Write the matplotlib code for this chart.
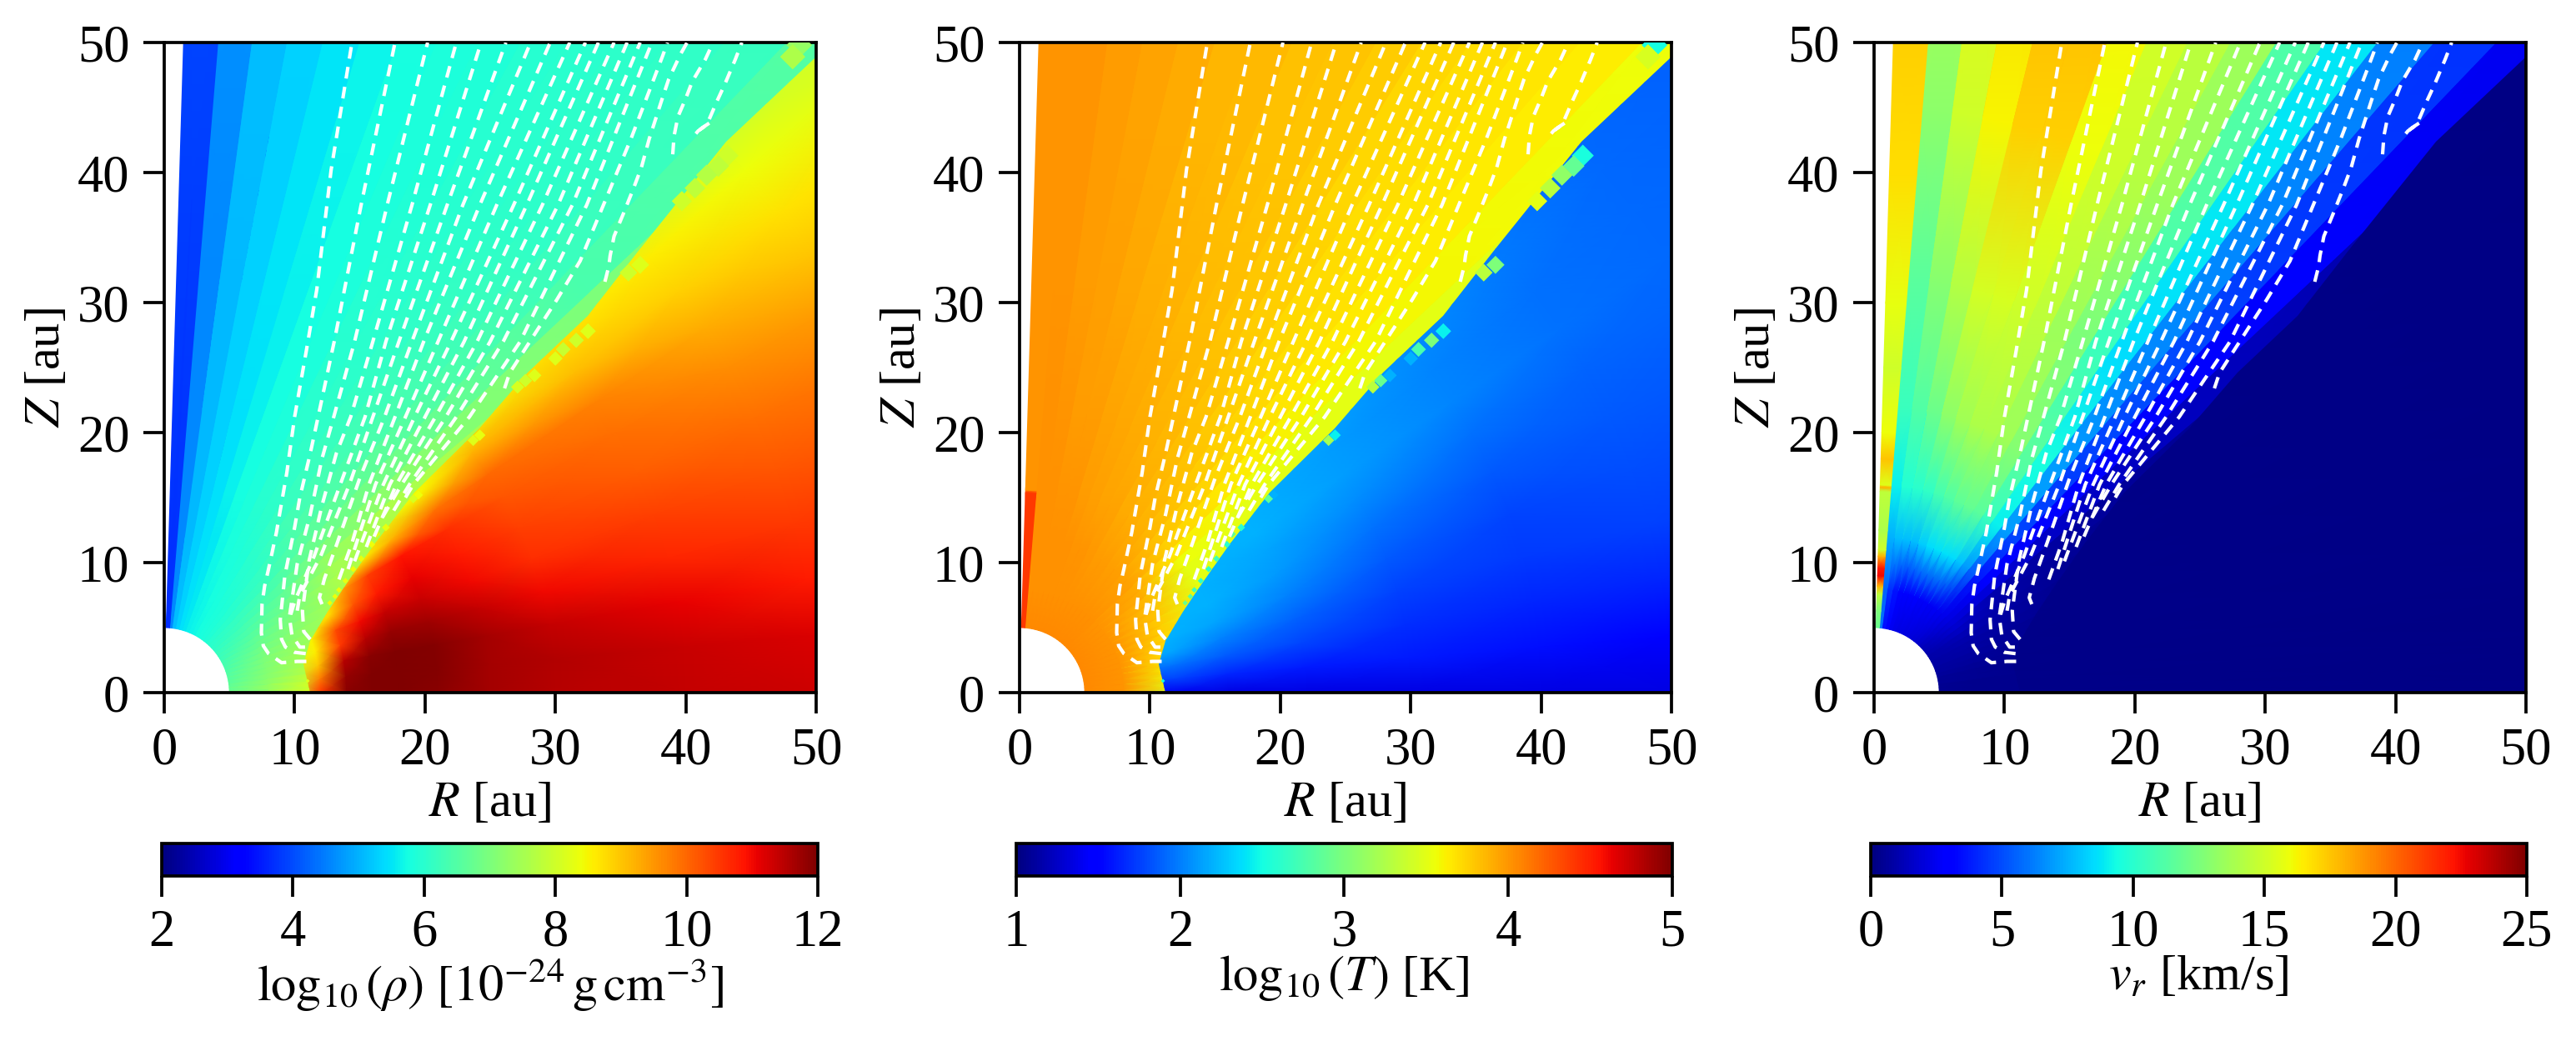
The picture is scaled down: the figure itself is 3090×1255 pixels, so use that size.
import numpy as np
import matplotlib
matplotlib.use("Agg")
import matplotlib.pyplot as plt
from matplotlib.patches import Polygon
from matplotlib.cm import ScalarMappable
from matplotlib.colors import Normalize

plt.rcParams['font.family'] = ['Liberation Serif', 'DejaVu Serif']
plt.rcParams['mathtext.fontset'] = 'stix'
plt.rcParams['font.size'] = 15

# wind grid: angle from the Z axis (deg), radius (au)
wedge_edges = [4.7, 7.7, 10.7, 13.7, 16.7, 19.7, 22.7, 25.7, 28.7, 31.7, 34.7, 37.7, 40.7, 43.7, 46.7,
               49.7, 52.7, 55.7, 58.7, 61.7, 64.7, 67.7, 70.7, 73.7, 76.7, 79.7, 82.7, 85.7, 88.7, 90.0]
wind_r = [5, 8, 12, 16, 22, 32, 45, 71]

rho_wind = [
    [4.6, 4.6, 4.6, 4.6, 4.6, 4.6, 4.65, 4.7],
    [5.1, 5.1, 5.05, 5.05, 5.05, 5.05, 5.1, 5.1],
    [5.3, 5.3, 5.3, 5.3, 5.3, 5.3, 5.3, 5.35],
    [5.45, 5.45, 5.45, 5.45, 5.45, 5.5, 5.5, 5.5],
    [5.55, 5.55, 5.55, 5.6, 5.6, 5.6, 5.65, 5.65],
    [5.6, 5.65, 5.7, 5.75, 5.75, 5.75, 5.75, 5.8],
    [5.65, 5.7, 5.8, 5.85, 5.85, 5.85, 5.85, 5.85],
    [5.7, 5.75, 5.85, 5.95, 6.0, 5.95, 5.9, 5.9],
    [5.75, 5.8, 5.9, 6.05, 6.1, 6.0, 5.95, 5.95],
    [5.8, 5.85, 6.0, 6.15, 6.2, 6.1, 6.0, 6.0],
    [5.85, 5.9, 6.05, 6.3, 6.3, 6.2, 6.05, 6.05],
    [5.9, 5.95, 6.15, 6.45, 6.45, 6.3, 6.1, 6.1],
    [5.95, 6.05, 6.25, 6.6, 6.65, 6.45, 6.2, 6.15],
    [6.0, 6.15, 6.4, 6.8, 6.9, 6.7, 6.4, 6.5],
    [6.05, 6.25, 6.55, 7.0, 7.2, 7.1, 7.0, 7.0],
    [6.1, 6.35, 6.7, 7.3, 7.6, 7.5, 7.5, 7.5],
    [6.15, 6.45, 6.85, 7.5, 7.6, 7.5, 7.5, 7.5],
    [6.2, 6.55, 7.0, 7.6, 7.6, 7.5, 7.5, 7.5],
    [6.25, 6.65, 7.1, 7.6, 7.6, 7.5, 7.5, 7.5],
    [6.3, 6.75, 7.2, 7.6, 7.6, 7.5, 7.5, 7.5],
    [6.35, 6.85, 7.3, 7.6, 7.6, 7.5, 7.5, 7.5],
    [6.4, 6.95, 7.4, 7.6, 7.6, 7.5, 7.5, 7.5],
    [6.45, 7.0, 7.5, 7.6, 7.6, 7.5, 7.5, 7.5],
    [6.5, 7.05, 7.6, 7.6, 7.6, 7.5, 7.5, 7.5],
    [6.55, 7.1, 7.7, 7.6, 7.6, 7.5, 7.5, 7.5],
    [6.6, 7.15, 7.8, 7.6, 7.6, 7.5, 7.5, 7.5],
    [6.65, 7.2, 8.0, 7.6, 7.6, 7.5, 7.5, 7.5],
    [6.7, 7.3, 8.2, 7.6, 7.6, 7.5, 7.5, 7.5],
    [6.7, 7.35, 8.3, 7.6, 7.6, 7.5, 7.5, 7.5],
]

T_wind = [
    [4.05, 4.03, 4.03, 4.03, 4.02, 4.0, 4.0, 4.0],
    [4.05, 4.03, 4.03, 4.02, 4.0, 3.98, 3.98, 3.98],
    [4.05, 4.03, 4.02, 4.0, 3.98, 3.96, 3.95, 3.95],
    [4.05, 4.03, 4.02, 4.0, 3.97, 3.93, 3.92, 3.9],
    [4.05, 4.03, 4.02, 3.98, 3.95, 3.9, 3.87, 3.87],
    [4.05, 4.03, 4.0, 3.96, 3.93, 3.88, 3.85, 3.85],
    [4.05, 4.03, 4.0, 3.95, 3.91, 3.85, 3.82, 3.82],
    [4.05, 4.03, 3.99, 3.94, 3.89, 3.83, 3.8, 3.8],
    [4.05, 4.03, 3.98, 3.92, 3.87, 3.8, 3.77, 3.77],
    [4.05, 4.02, 3.97, 3.9, 3.84, 3.77, 3.73, 3.72],
    [4.05, 4.02, 3.96, 3.88, 3.81, 3.73, 3.69, 3.69],
    [4.05, 4.02, 3.96, 3.85, 3.77, 3.7, 3.66, 3.66],
    [4.05, 4.02, 3.95, 3.8, 3.72, 3.65, 3.63, 3.63],
    [4.05, 4.02, 3.95, 3.75, 3.65, 3.58, 3.58, 3.55],
    [4.05, 4.01, 3.92, 3.65, 3.55, 3.5, 3.5, 3.5],
    [4.05, 4.0, 3.9, 3.55, 3.5, 3.5, 3.5, 3.5],
    [4.05, 4.0, 3.85, 3.5, 3.5, 3.5, 3.5, 3.5],
    [4.05, 4.0, 3.82, 3.5, 3.5, 3.5, 3.5, 3.5],
    [4.05, 4.0, 3.8, 3.5, 3.5, 3.5, 3.5, 3.5],
    [4.05, 4.0, 3.78, 3.5, 3.5, 3.5, 3.5, 3.5],
    [4.05, 4.0, 3.75, 3.5, 3.5, 3.5, 3.5, 3.5],
    [4.05, 4.0, 3.72, 3.5, 3.5, 3.5, 3.5, 3.5],
    [4.05, 4.0, 3.7, 3.5, 3.5, 3.5, 3.5, 3.5],
    [4.05, 4.0, 3.66, 3.5, 3.5, 3.5, 3.5, 3.5],
    [4.05, 4.0, 3.62, 3.5, 3.5, 3.5, 3.5, 3.5],
    [4.05, 4.0, 3.58, 3.5, 3.5, 3.5, 3.5, 3.5],
    [4.05, 4.0, 3.55, 3.5, 3.5, 3.5, 3.5, 3.5],
    [4.05, 4.0, 3.5, 3.5, 3.5, 3.5, 3.5, 3.5],
    [4.05, 4.0, 3.45, 3.5, 3.5, 3.5, 3.5, 3.5],
]

v_wind = [
    [6.0, 5.5, 7.5, 9.0, 10.5, 11.5, 13.0, 14.5],
    [3.5, 4.2, 7.8, 9.8, 11.2, 12.8, 15.0, 16.5],
    [2.8, 3.6, 7.8, 10.0, 12.0, 14.2, 16.3, 17.5],
    [2.5, 3.2, 7.8, 10.2, 13.0, 15.2, 17.2, 18.3],
    [2.3, 3.0, 8.2, 10.8, 13.6, 15.3, 17.2, 18.2],
    [2.2, 2.9, 8.5, 11.2, 14.0, 15.0, 16.0, 16.5],
    [2.2, 2.8, 8.6, 11.6, 14.0, 14.5, 15.0, 15.2],
    [2.1, 2.7, 8.6, 11.8, 13.6, 13.5, 14.3, 14.5],
    [2.1, 2.7, 8.5, 11.5, 12.8, 12.5, 13.5, 13.5],
    [2.0, 2.6, 8.0, 10.5, 11.5, 10.5, 11.3, 11.0],
    [1.9, 2.6, 7.0, 9.0, 9.5, 8.5, 8.8, 8.7],
    [1.8, 2.5, 5.5, 7.0, 7.0, 6.5, 6.5, 6.2],
    [1.6, 2.4, 3.8, 4.8, 4.6, 5.0, 4.5, 4.3],
    [1.4, 2.2, 2.8, 2.8, 2.8, 3.0, 3.0, 2.5],
    [1.2, 2.0, 2.0, 1.6, 1.5, 1.4, 1.2, 0.6],
    [1.1, 1.8, 1.0, 0.8, 0.6, 0.5, 0.4, 0.3],
    [1.0, 1.5, 0.9, 0.6, 0.4, 0.3, 0.3, 0.2],
    [0.9, 1.2, 0.8, 0.5, 0.3, 0.3, 0.2, 0.2],
    [0.9, 1.0, 0.7, 0.4, 0.3, 0.2, 0.2, 0.2],
    [0.8, 0.9, 0.6, 0.4, 0.3, 0.2, 0.2, 0.2],
    [0.8, 0.8, 0.5, 0.3, 0.2, 0.2, 0.2, 0.2],
    [0.7, 0.7, 0.5, 0.3, 0.2, 0.2, 0.2, 0.2],
    [0.7, 0.6, 0.4, 0.3, 0.2, 0.2, 0.2, 0.2],
    [0.6, 0.5, 0.4, 0.3, 0.2, 0.2, 0.2, 0.2],
    [0.5, 0.4, 0.3, 0.3, 0.2, 0.2, 0.2, 0.2],
    [0.5, 0.4, 0.3, 0.2, 0.2, 0.2, 0.2, 0.2],
    [0.4, 0.3, 0.3, 0.2, 0.2, 0.2, 0.2, 0.2],
    [0.4, 0.3, 0.3, 0.2, 0.2, 0.2, 0.2, 0.2],
    [0.4, 0.3, 0.3, 0.2, 0.2, 0.2, 0.2, 0.2],
]

# the narrow wedge along the Z axis has its own radial structure
axis_edges = [1.7, 4.7]
rho_axis_r = [5, 71]
rho_axis = [3.7, 4.0]
T_axis_r = [5, 15.4, 15.6, 71]
T_axis = [4.4, 4.4, 4.0, 4.0]
v_axis_r = [5, 6.3, 7.6, 8.2, 9, 9.6, 10.5, 11, 12.5, 15.5, 15.8, 16, 18, 20, 25, 30, 40, 50, 71]
v_axis = [12, 12.5, 14.5, 18, 22.5, 22, 18, 15, 14, 14.5, 18, 15.5, 17.5, 16, 15, 15.8, 16.8, 17.2, 17.2]

# disc tables
disc_theta = [44, 48, 52, 56, 60, 65, 70, 75, 80, 85, 90]
rho_disc_r = [10, 12, 14, 16, 18, 21, 25, 30, 40, 50, 60, 72]
rho_disc = [
    [8, 8, 8, 8, 8, 8, 8, 8, 8, 7.9, 7.9, 7.9],
    [8, 8, 8, 8, 8, 8.2, 8.3, 8.4, 8.7, 8.6, 8.4, 8.2],
    [8, 8, 8, 8, 8.2, 8.3, 8.5, 9.2, 9.1, 8.9, 8.7, 8.6],
    [8, 8, 8.2, 8.4, 8.5, 9.2, 9.9, 10.0, 9.7, 9.3, 9.0, 8.9],
    [8, 8.2, 8.5, 9.5, 10.4, 10.9, 10.6, 10.2, 9.9, 9.6, 9.4, 9.4],
    [8, 8.4, 8.8, 10.2, 10.8, 11.1, 10.8, 10.4, 10.1, 9.9, 9.8, 9.8],
    [8, 8.5, 10.3, 11.0, 11.4, 11.35, 11.0, 10.6, 10.4, 10.2, 10.1, 10.1],
    [8, 8.6, 10.5, 11.5, 11.8, 11.7, 11.4, 11.0, 10.7, 10.5, 10.4, 10.4],
    [8, 9.0, 11.5, 11.9, 12, 11.95, 11.65, 11.4, 11.1, 10.8, 10.7, 10.7],
    [8, 9.8, 11.8, 12, 12, 11.95, 11.65, 11.55, 11.35, 11.2, 11.1, 11.1],
    [8, 10.5, 11.9, 12, 12, 11.9, 11.65, 11.5, 11.4, 11.3, 11.3, 11.3],
]
T_disc_r = [10, 12, 16, 22, 30, 40, 50, 60, 72]
T_disc = [
    [2.2, 2.2, 2.2, 2.2, 2.15, 2.05, 1.98, 1.92, 1.88],
    [2.2, 2.2, 2.2, 2.2, 2.15, 2.05, 1.98, 1.92, 1.88],
    [2.2, 2.2, 2.2, 2.2, 2.12, 2.02, 1.95, 1.92, 1.9],
    [2.2, 2.2, 2.2, 2.2, 2.12, 2.02, 1.95, 1.92, 1.9],
    [2.2, 2.2, 2.2, 2.15, 2.05, 1.95, 1.9, 1.9, 1.9],
    [2.2, 2.2, 2.2, 2.1, 1.95, 1.85, 1.85, 1.85, 1.85],
    [2.2, 2.2, 2.15, 2.0, 1.85, 1.78, 1.8, 1.8, 1.8],
    [2.15, 2.15, 2.0, 1.88, 1.75, 1.72, 1.75, 1.75, 1.75],
    [1.95, 1.95, 1.85, 1.78, 1.68, 1.65, 1.65, 1.65, 1.65],
    [1.75, 1.75, 1.65, 1.6, 1.6, 1.55, 1.5, 1.5, 1.5],
    [1.4, 1.4, 1.35, 1.35, 1.35, 1.35, 1.35, 1.35, 1.35],
]
v_disc_r = [10, 72]
v_disc = [[0.2, 0.1]] * 11

# wind / disc interface
front_R = [11.2, 10.65, 11.2, 12.5, 14.1, 16.1, 19.2, 24.2, 27.9, 32.5, 36.3, 43.1, 49.8, 51.5]
front_Z = [0.0, 2.2, 4.0, 6.2, 8.6, 11.4, 15.4, 20.3, 24.6, 29.0, 33.9, 42.4, 48.7, 50.5]

# cells sticking out along the interface
cell_R = [43.2, 42.5, 41.6, 40.7, 39.7, 36.5, 35.6, 32.5, 31.6, 30.6, 30.0, 28.4, 27.7, 27.1, 24.2, 23.7,
          19.5, 19.1, 17.0, 16.3, 15.9, 15.1, 14.5, 13.9, 13.4, 13.1, 12.7, 11.0, 48.7, 48.2]
cell_Z = [41.3, 40.5, 39.8, 38.8, 37.8, 32.9, 32.3, 27.8, 27.1, 26.4, 25.7, 24.4, 24.0, 23.5, 19.8, 19.4,
          15.2, 14.9, 12.7, 12.2, 11.4, 10.3, 9.5, 8.6, 7.9, 7.4, 6.9, 0.9, 49.8, 48.9]
T_cells = [2.52, 2.88, 3.1, 3.3, 3.5, 3.0, 3.3, 2.45, 3.0, 2.75, 2.2, 2.2, 2.9, 3.3, 2.45, 3.2,
           2.2, 2.85, 2.6, 2.85, 2.6, 2.7, 2.6, 2.6, 2.7, 2.8, 2.9, 2.5, 2.5, 3.45]
rho_cells = [8.0, 7.8, 7.7, 7.8, 8.0, 8.2, 8.0, 8.2, 8.0, 7.9, 8.2, 8.2, 8.0, 8.1, 8.3, 8.2,
             8.4, 8.1, 8.3, 8.2, 8.4, 8.3, 8.4, 8.3, 8.4, 8.4, 8.4, 8.2, 7.3, 7.6]

# streamlines, each runs from the disc surface up to the top of the box
stream_R = [
    [10.9, 10.2, 9.0, 8.0, 7.6, 7.45, 7.5, 7.7, 8.0, 8.6, 9.4, 10.0, 10.9, 11.7, 12.8, 14.4],
    [10.85, 10.0, 9.3, 9.0, 8.9, 9.25, 10.0, 10.4, 11.2, 11.8, 13.1, 15.1, 17.7],
    [10.8, 10.4, 9.8, 9.6, 10.2, 11.2, 12.1, 13.0, 14.6, 17.1, 20.2],
    [11.2, 10.7, 10.6, 11.1, 12.1, 13.2, 14.3, 16.0, 19.0, 22.4],
    [9.7, 10.0, 11.5, 13.5, 15.4, 17.0, 20.4, 24.3],
    [10.2, 10.4, 12.0, 14.2, 16.0, 18.0, 21.7, 26.2],
    [12.1, 11.9, 12.3, 13.3, 15.0, 16.9, 19.0, 22.9, 28.1],
    [13.4, 14.4, 15.7, 17.7, 19.9, 24.2, 29.6],
    [14.1, 16.2, 18.5, 21.0, 25.5, 31.1],
    [14.6, 16.8, 19.2, 22.0, 26.8, 32.3],
    [15.5, 17.3, 20.0, 23.0, 27.8, 33.3],
    [16.1, 17.8, 20.8, 24.0, 29.0, 34.5],
    [16.75, 18.2, 21.6, 25.0, 30.2, 35.5],
    [17.6, 18.8, 22.4, 26.0, 31.3, 36.5],
    [18.5, 19.1, 23.4, 27.3, 32.4, 37.4],
    [26.1, 26.5, 28.3, 30.1, 31.9, 35.8, 38.2, 38.6],
    [33.8, 34.1, 34.2, 34.5, 35.2, 36.0, 36.6, 37.2, 38.2, 38.7, 39.6, 40.1],
    [39.0, 39.1, 39.4, 40.0, 40.5, 41.5, 42.1],
    [41.8, 41.5, 40.95, 40.7, 40.95, 41.5, 41.8, 42.4, 43.0, 43.8, 44.3],
]
stream_Z = [
    [2.4, 2.4, 2.3, 3.0, 3.6, 4.6, 6.8, 8.2, 9.5, 12.3, 16.9, 21.2, 26.3, 31.0, 40.2, 50.0],
    [3.0, 3.1, 3.5, 4.1, 5.6, 9.0, 12.7, 15.0, 18.4, 21.2, 27.3, 37.5, 50.0],
    [3.5, 3.5, 4.4, 5.8, 9.9, 13.7, 18.0, 21.2, 27.0, 37.5, 50.0],
    [4.1, 4.7, 6.3, 10.1, 14.4, 18.4, 21.2, 27.0, 37.5, 50.0],
    [6.0, 7.0, 10.5, 16.0, 21.2, 27.0, 37.5, 50.0],
    [6.3, 7.5, 10.5, 16.0, 21.2, 27.0, 37.5, 50.0],
    [6.8, 7.3, 8.8, 11.6, 16.5, 21.2, 27.0, 37.5, 50.0],
    [8.7, 11.5, 16.0, 21.2, 27.0, 37.5, 50.0],
    [9.5, 16.0, 21.2, 27.0, 37.5, 50.0],
    [10.1, 16.0, 21.2, 27.0, 37.5, 50.0],
    [11.2, 16.0, 21.2, 27.0, 37.5, 50.0],
    [12.0, 16.0, 21.2, 27.0, 37.5, 50.0],
    [13.5, 16.0, 21.2, 27.0, 37.5, 50.0],
    [14.0, 16.0, 21.2, 27.0, 37.5, 50.0],
    [15.0, 16.0, 21.2, 27.0, 37.5, 50.0],
    [23.4, 24.6, 27.4, 30.2, 33.2, 42.6, 48.9, 50.0],
    [31.6, 32.8, 33.6, 35.1, 36.8, 38.8, 40.4, 42.6, 45.7, 47.2, 49.1, 50.0],
    [41.4, 42.8, 44.3, 45.7, 47.0, 48.7, 50.0],
    [43.8, 43.6, 43.2, 42.9, 43.2, 43.6, 44.1, 45.5, 46.8, 48.7, 50.0],
]

panels = [
    dict(wind=rho_wind, axis_r=rho_axis_r, axis=rho_axis, disc_r=rho_disc_r, disc=rho_disc, cells=rho_cells,
         vmin=2, vmax=12, ticks=[2, 4, 6, 8, 10, 12], pad=-0.4,
         label=r'$\log_{10}(\rho)\ [10^{-24}\,\mathrm{g\,cm^{-3}}]$', left=197, cleft=194),
    dict(wind=T_wind, axis_r=T_axis_r, axis=T_axis, disc_r=T_disc_r, disc=T_disc, cells=T_cells,
         vmin=1, vmax=5, ticks=[1, 2, 3, 4, 5], pad=-1.2,
         label=r'$\log_{10}(T)$ [K]', left=1223, cleft=1219),
    dict(wind=v_wind, axis_r=v_axis_r, axis=v_axis, disc_r=v_disc_r, disc=v_disc, cells=None,
         vmin=0, vmax=25, ticks=[0, 5, 10, 15, 20, 25], pad=-0.4,
         label=r'$v_r$ [km/s]', left=2248, cleft=2244),
]

W, H = 3090, 1255
fig = plt.figure(figsize=(W / 300, H / 300), dpi=300)


def polar_xy(r, theta):
    rr, tt = np.meshgrid(r, np.radians(theta))
    return rr * np.sin(tt), rr * np.cos(tt)


def wedges(ax, edges, r, vals, p):
    # every wedge keeps one colour across its width, radially it is smooth
    edges = np.asarray(edges)
    theta = np.column_stack([edges[:-1], edges[1:]]).ravel()
    x, y = polar_xy(r, theta)
    c = np.repeat(np.atleast_2d(vals), 2, axis=0)
    return ax.pcolormesh(x, y, c, shading='gouraud', cmap='jet', vmin=p['vmin'], vmax=p['vmax'])


for p in panels:
    ax = fig.add_axes([p['left'] / W, (H - 831) / H, 782 / W, 780 / H])
    wedges(ax, wedge_edges, wind_r, p['wind'], p)
    wedges(ax, axis_edges, p['axis_r'], p['axis'], p)

    x, y = polar_xy(p['disc_r'], disc_theta)
    disc = ax.pcolormesh(x, y, np.array(p['disc']), shading='gouraud', cmap='jet', vmin=p['vmin'], vmax=p['vmax'])
    clip = Polygon(list(zip(front_R, front_Z)) + [(60, 60), (60, 0)], closed=True, transform=ax.transData)
    disc.set_clip_path(clip)

    if p['cells'] is not None:
        size = (0.075 * np.hypot(cell_R, cell_Z)) ** 2
        ax.scatter(cell_R, cell_Z, c=p['cells'], s=size, marker='D', linewidths=0, cmap='jet',
                   vmin=p['vmin'], vmax=p['vmax'], zorder=3)

    for sr, sz in zip(stream_R, stream_Z):
        ax.plot(sr, sz, color='white', lw=1.0, dashes=(3.4, 2.4), dash_capstyle='butt', zorder=4)

    ax.set_xlim(0, 50)
    ax.set_ylim(0, 50)
    ax.set_xticks([0, 10, 20, 30, 40, 50])
    ax.set_yticks([0, 10, 20, 30, 40, 50])
    ax.tick_params(length=6, width=0.9, labelsize=15, pad=4)
    ax.set_xlabel(r'$R$ [au]', fontsize=14.5, labelpad=1.8)
    ax.set_ylabel(r'$Z$ [au]', fontsize=14.5, labelpad=2)
    for s in ax.spines.values():
        s.set_linewidth(0.9)

    cax = fig.add_axes([p['cleft'] / W, (H - 1051) / H, 787 / W, 39 / H])
    sm = ScalarMappable(norm=Normalize(p['vmin'], p['vmax']), cmap='jet')
    cb = fig.colorbar(sm, cax=cax, orientation='horizontal', ticks=p['ticks'])
    cb.ax.tick_params(length=6, width=0.9, labelsize=15, pad=3.5)
    cb.outline.set_linewidth(0.9)
    cb.set_label(p['label'], fontsize=14.5, labelpad=p['pad'])

fig.savefig('out.png', dpi=300)
